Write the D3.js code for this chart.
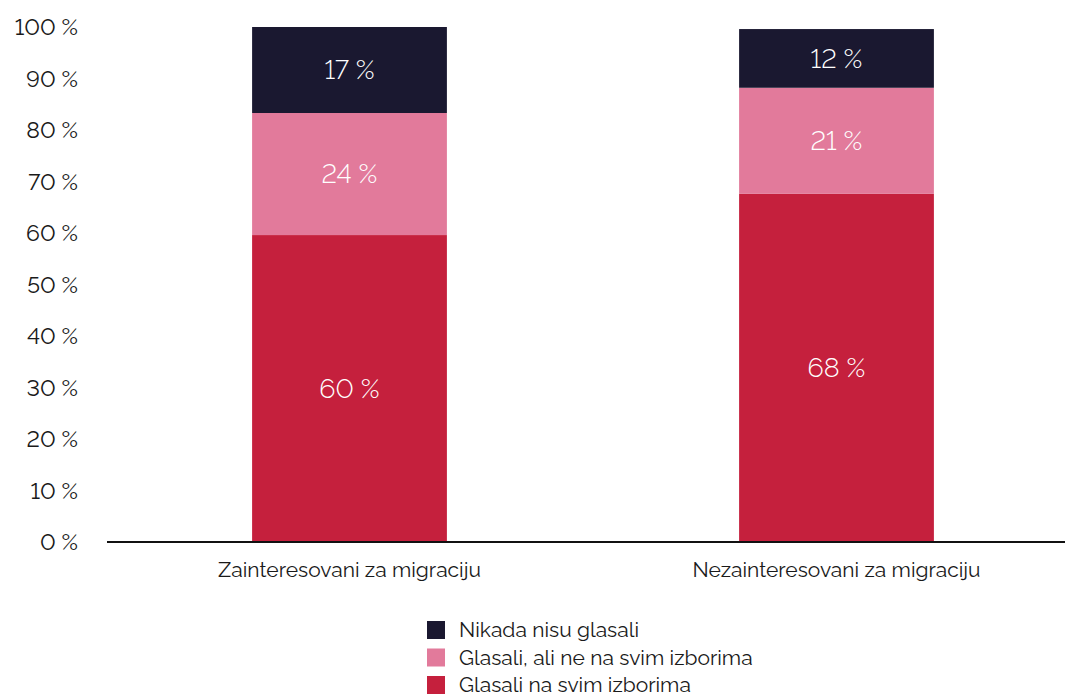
<!DOCTYPE html>
<html>
<head>
<meta charset="utf-8">
<script src="https://d3js.org/d3.v7.min.js"></script>
<title>Glasanje</title>
<style>
  body { margin: 0; background: #fff; font-family: 'Raleway', 'Noto Sans', sans-serif; }
  text { fill: #1a1a1a; font-variant-numeric: lining-nums; font-feature-settings: "lnum" 1; }
</style>
</head>
<body>
<script>
// categories and series (percent)
var groups = ["Zainteresovani za migraciju", "Nezainteresovani za migraciju"];
var seriesNames = ["Glasali na svim izborima", "Glasali, ali ne na svim izborima", "Nikada nisu glasali"];
var allElections = [59.6, 67.6];
var someElections = [23.7, 20.6];
var neverVoted = [16.7, 11.4];
var labelsAll = ["60 %", "68 %"];
var labelsSome = ["24 %", "21 %"];
var labelsNever = ["17 %", "12 %"];
var yTicks = [0, 10, 20, 30, 40, 50, 60, 70, 80, 90, 100];

var colours = ["#c5203d", "#e27a9b", "#1a1830"];

var W = 1067, H = 694;
var svg = d3.select("body").append("svg")
  .attr("width", W).attr("height", H);

var y = d3.scaleLinear().domain([0, 100]).range([542, 27]);
var x = d3.scaleBand().domain(groups).range([106, 1080]).paddingInner(0.6).paddingOuter(0.3);

var series = [allElections, someElections, neverVoted];
var labels = [labelsAll, labelsSome, labelsNever];

var rows = groups.map(function(g, i){
  var r = {group: g};
  seriesNames.forEach(function(s, k){ r[s] = series[k][i]; });
  return r;
});
var stacked = d3.stack().keys(seriesNames)(rows);

// bars
var layer = svg.selectAll("g.layer").data(stacked).enter().append("g")
  .attr("class", "layer")
  .attr("fill", function(d, k){ return colours[k]; });
layer.selectAll("rect").data(function(d){ return d; }).enter().append("rect")
  .attr("x", function(d){ return x(d.data.group); })
  .attr("width", x.bandwidth())
  .attr("y", function(d){ return y(d[1]); })
  .attr("height", function(d){ return y(d[0]) - y(d[1]); });

// value labels
stacked.forEach(function(s, k){
  svg.append("g").selectAll("text").data(s).enter().append("text")
    .attr("x", function(d){ return x(d.data.group) + x.bandwidth()/2; })
    .attr("y", function(d){ return (y(d[0]) + y(d[1]))/2; })
    .attr("dy", "0.35em")
    .attr("text-anchor", "middle")
    .style("fill", "#fff")
    .style("font-size", "27px")
    .style("font-weight", 300)
    .text(function(d, i){ return labels[k][i]; });
});

// y axis labels
svg.append("g").selectAll("text").data(yTicks).enter().append("text")
  .attr("x", 78)
  .attr("y", function(d){ return y(d); })
  .attr("dy", "0.35em")
  .attr("text-anchor", "end")
  .style("font-size", "23px")
  .text(function(d){ return d + " %"; });

// baseline
svg.append("line")
  .attr("x1", 107).attr("x2", 1065)
  .attr("y1", y(0)).attr("y2", y(0))
  .attr("stroke", "#111").attr("stroke-width", 2);

// category labels
svg.append("g").selectAll("text").data(groups).enter().append("text")
  .attr("x", function(d){ return x(d) + x.bandwidth()/2; })
  .attr("y", 577)
  .attr("text-anchor", "middle")
  .style("font-size", "21px")
  .text(function(d){ return d; });

// legend (reversed order)
var leg = svg.append("g").selectAll("g").data(seriesNames.slice().reverse()).enter().append("g")
  .attr("transform", function(d, i){ return "translate(427," + (621 + i*27.5) + ")"; });
leg.append("rect")
  .attr("width", 18).attr("height", 18)
  .attr("fill", function(d){ return colours[seriesNames.indexOf(d)]; });
leg.append("text")
  .attr("x", 32).attr("y", 9).attr("dy", "0.35em")
  .style("font-size", "21px")
  .text(function(d){ return d; });
</script>
</body>
</html>
